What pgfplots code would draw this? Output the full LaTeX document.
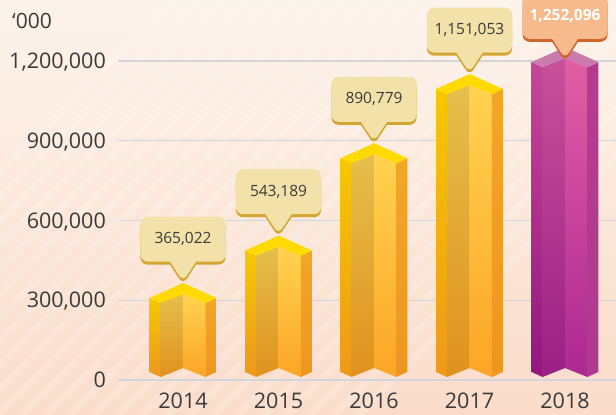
\documentclass[border=0pt]{standalone}
\usepackage{pgfplots}
\pgfplotsset{compat=1.18}
\usepackage{pgfplotstable}
\usepackage{fontspec}
\setmainfont{Open Sans}
\usetikzlibrary{shapes.callouts,shadows}

\definecolor{bgtop}{HTML}{FCF3EB}
\definecolor{bgbot}{HTML}{FBDCCA}
\definecolor{gridc}{HTML}{D5D5DD}
\definecolor{txt}{HTML}{3A3A3A}
% yellow prism
\definecolor{ycap}{HTML}{FFDA00}
\definecolor{ylsT}{HTML}{F6C800}\definecolor{ylsB}{HTML}{EE981C}
\definecolor{ylfT}{HTML}{E5BF4C}\definecolor{ylfB}{HTML}{E0911E}
\definecolor{yrfT}{HTML}{FFD34F}\definecolor{yrfB}{HTML}{FDA526}
\definecolor{yrsT}{HTML}{F3A626}\definecolor{yrsB}{HTML}{EE9620}
% magenta prism
\definecolor{mcap}{HTML}{C97BAE}
\definecolor{mlsT}{HTML}{C4479A}\definecolor{mlsB}{HTML}{95167F}
\definecolor{mlfT}{HTML}{C9509A}\definecolor{mlfB}{HTML}{9A2084}
\definecolor{mrfT}{HTML}{E35DA4}\definecolor{mrfB}{HTML}{AD2891}
\definecolor{mrsT}{HTML}{B43C8E}\definecolor{mrsB}{HTML}{AE3A90}
% callouts
\definecolor{cbox}{HTML}{F3E1AA}\definecolor{cshd}{HTML}{D2A630}
\definecolor{pbox}{HTML}{F6BA8C}\definecolor{pshd}{HTML}{D0652A}

\pgfplotstableread{
x y lab
0 365022 365,022
1 543189 543,189
2 890779 890,779
3 1151053 1,151,053
}\datamain
\pgfplotstableread{
x y lab
4 1252096 1,252,096
}\datalast

% #1 = x position, #2 = value, #3 = colour prefix
\newcommand\prism[3]{%
  \begingroup
  \pgfkeys{/pgf/fpu=true,/pgf/fpu/output format=sci}%
  \pgfmathsetmacro\yP{#2}%
  \pgfmathsetmacro\yO{#2-56400}%
  \pgfmathsetmacro\yI{#2-75200}%
  \pgfmathsetmacro\yM{#2-41400}%
  \pgfkeys{/pgf/fpu=false}%
  \pgfmathsetmacro\xL{#1-0.35}%
  \pgfmathsetmacro\xl{#1-0.235}%
  \pgfmathsetmacro\xr{#1+0.235}%
  \pgfmathsetmacro\xR{#1+0.35}%
  \edef\doit{%
    \noexpand\addplot[draw=none, top color=#3lsT, bottom color=#3lsB] coordinates {(\xL,\yO) (\xl,\yI) (\xl,11300) (\xL,30100)};
    \noexpand\addplot[draw=none, top color=#3lfT, bottom color=#3lfB] coordinates {(\xl,\yI) (#1,\yM) (#1,45100) (\xl,11300)};
    \noexpand\addplot[draw=none, top color=#3rfT, bottom color=#3rfB] coordinates {(#1,\yM) (\xr,\yI) (\xr,11300) (#1,45100)};
    \noexpand\addplot[draw=none, top color=#3rsT, bottom color=#3rsB] coordinates {(\xr,\yI) (\xR,\yO) (\xR,30100) (\xr,11300)};
    \noexpand\addplot[draw=none, fill=#3cap] coordinates {(\xL,\yO) (#1,\yP) (\xR,\yO) (\xr,\yI) (#1,\yM) (\xl,\yI)};
  }%
  \expandafter\endgroup\doit
}

\tikzset{
  callbase/.style={shape=rectangle callout, rounded corners=7pt,
    minimum width=85pt, minimum height=45pt, inner sep=0pt,
    callout relative pointer={(0pt,-20pt)}, callout pointer width=26pt,
    anchor=pointer, yshift=1pt, font=\fontsize{15.5}{18}\selectfont},
  callY/.style={callbase, fill=cbox, text=txt,
    general shadow={fill=cshd, shadow yshift=-3pt}},
  callM/.style={callbase, fill=pbox, text=white, font=\fontsize{15.5}{18}\selectfont\bfseries,
    yshift=-13pt, general shadow={fill=pshd, shadow yshift=-3pt}},
}

\begin{document}
\begin{tikzpicture}
\path[use as bounding box] (-118pt,-35pt) rectangle (498pt,380pt);
\fill[top color=bgtop, bottom color=bgbot] (-118pt,-35pt) rectangle (498pt,380pt);
\begin{scope}
\clip (-118pt,-35pt) rectangle (498pt,380pt);
\foreach \i in {0,24,...,600}
  \draw[white, opacity=0.18, line width=8pt] (\i pt-360pt,-35pt) -- ++(415pt,415pt);
\end{scope}
\node[font=\fontsize{21}{25}\selectfont, text=txt, anchor=base west, inner sep=0pt] at (-106pt,351pt) {‘000};
\begin{axis}[
  at={(0,0)}, anchor=south west, scale only axis,
  width=498pt, height=319pt,
  xmin=-0.6806, xmax=4.534, ymin=0, ymax=1200000,
  scaled y ticks=false,
  axis line style={draw=none}, major tick length=0pt,
  ymajorgrids, grid style={gridc, line width=1.3pt},
  ytick={0,300000,600000,900000,1200000},
  yticklabels={0,{300,000},{600,000},{900,000},{1,200,000}},
  xtick={0,1,2,3,4},
  xticklabels={2014,2015,2016,2017,2018},
  ticklabel style={font=\fontsize{21.5}{26}\selectfont, text=txt, inner sep=0pt},
  yticklabel style={anchor=base east, xshift=-12pt, yshift=-7.7pt},
  xticklabel style={anchor=north, yshift=-13pt},
  clip=false,
]
\prism{0}{365022}{y}
\prism{1}{543189}{y}
\prism{2}{890779}{y}
\prism{3}{1151053}{y}
\prism{4}{1252096}{m}
\addplot[draw=none, nodes near coords={\pgfplotspointmeta}, point meta=explicit symbolic,
  every node near coord/.append style={callY}] table[x=x, y=y, meta=lab] {\datamain};
\addplot[draw=none, nodes near coords={\pgfplotspointmeta}, point meta=explicit symbolic,
  every node near coord/.append style={callM}] table[x=x, y=y, meta=lab] {\datalast};
\end{axis}
\end{tikzpicture}
\end{document}
